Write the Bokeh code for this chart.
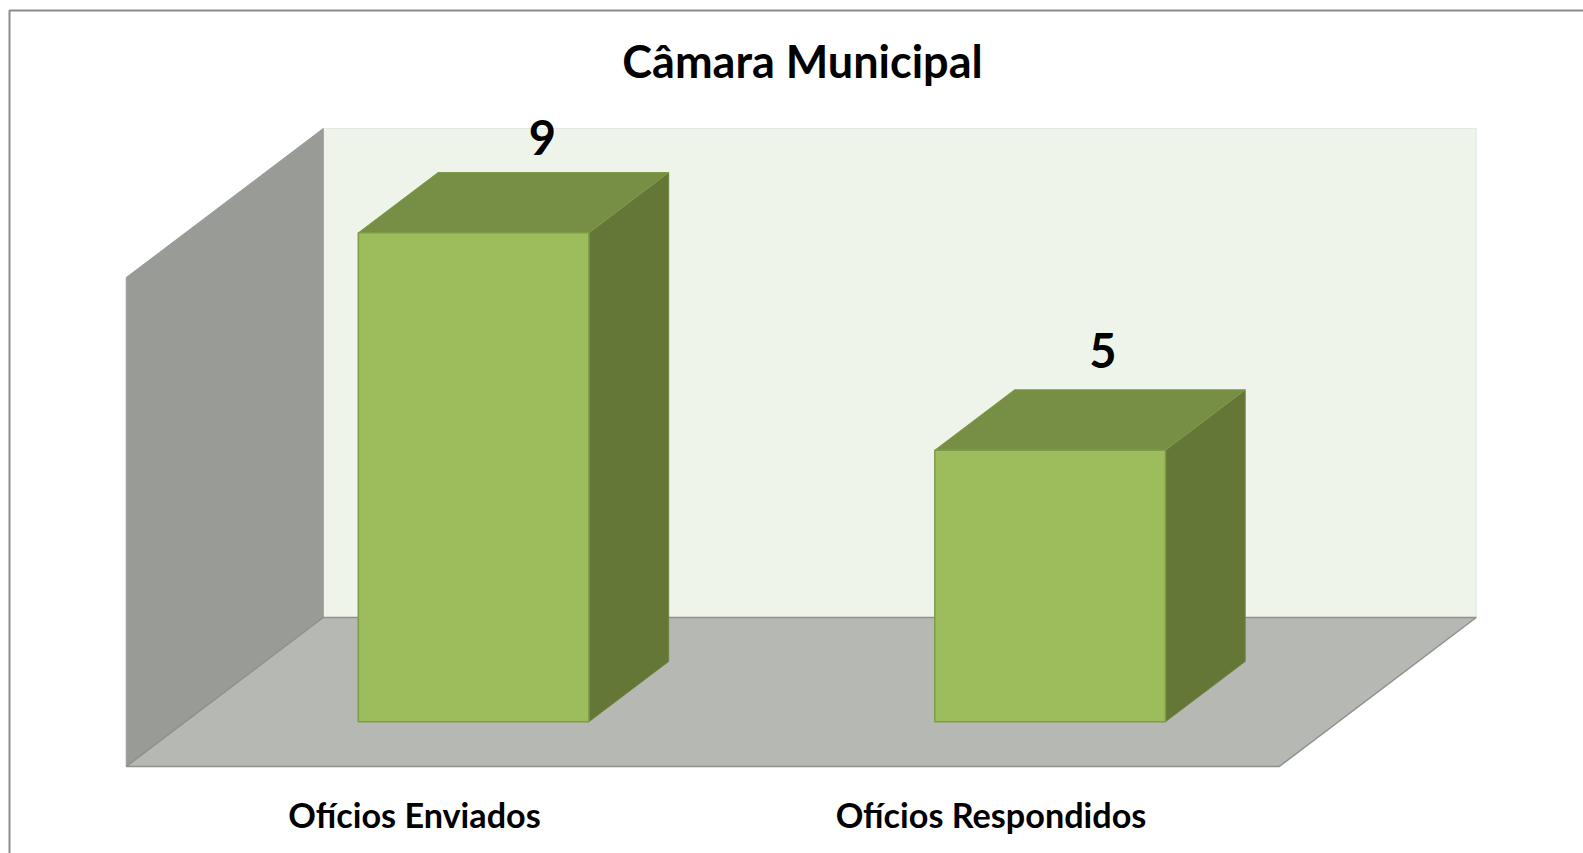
from bokeh.plotting import figure
from bokeh.embed import file_html
from bokeh.resources import INLINE
from bokeh.core.properties import value
from bokeh.models import FixedTicker, Range1d

# --- data ---
title_text = "Câmara Municipal"
categories = ["Ofícios Enviados", "Ofícios Respondidos"]
counts = [9, 5]
axis_top = 9

# --- layout of the pseudo-3D box ---
W, H = 1583, 853
PX_X = 576.5    # pixels per category
PX_Y = 54.33    # pixels per count
X0_PX, Y0_PX = 414.0, 766.0   # page position of category 0 / count 0 on the front plane
DX = 197.0 / PX_X   # full floor depth, in x units
DY = 149.0 / PX_Y   # full floor depth, in y units
BAR_HALF = 0.2
Z_FRONT, Z_BACK = 0.30, 0.705
LABEL_DX = [0.222, 0.194]
LABEL_DY = [2.58, 2.66]

xmin = -X0_PX / PX_X
xmax = xmin + W / PX_X
ymin = -(H - Y0_PX) / PX_Y
ymax = Y0_PX / PX_Y

p = figure(width=W, height=H, output_backend="svg", toolbar_location=None,
           x_range=Range1d(xmin, xmax), y_range=Range1d(ymin, ymax),
           min_border=0, min_border_left=0, min_border_right=0, min_border_top=0, min_border_bottom=0,
           background_fill_color="white", border_fill_color="white", outline_line_color=None)
p.grid.visible = False
p.yaxis.visible = False


def pr(x, y, z):
    return x + z * DX, y + z * DY


def face(points, fill, line=None, width=1.0):
    xs, ys = zip(*[pr(*pt) for pt in points])
    p.patch(list(xs), list(ys), fill_color=fill, line_color=line or fill, line_width=width)


L, R = -0.5, len(categories) - 0.5

# chart frame (only top and left edges fall within the picture)
fx = xmin + 9.0 / PX_X
fy = ymax - 10.0 / PX_Y
p.line([fx, fx, xmax], [ymin, fy, fy], line_color="#8C8C8C", line_width=2)

# walls and floor
face([(L, 0, 1), (R, 0, 1), (R, axis_top, 1), (L, axis_top, 1)], "#EEF4EA", "#E4E8E1")
face([(L, 0, 0), (L, 0, 1), (L, axis_top, 1), (L, axis_top, 0)], "#999B96", "#999B96")
face([(L, 0, 0), (R, 0, 0), (R, 0, 1), (L, 0, 1)], "#B6B8B3", "#8F918D", 1.5)

# bars
for i, v in enumerate(counts):
    a, b = i - BAR_HALF, i + BAR_HALF
    face([(b, 0, Z_FRONT), (b, 0, Z_BACK), (b, v, Z_BACK), (b, v, Z_FRONT)], "#657736", "#6F8540")
    face([(a, v, Z_FRONT), (b, v, Z_FRONT), (b, v, Z_BACK), (a, v, Z_BACK)], "#778E45", "#7F9B48")
    face([(a, 0, Z_FRONT), (b, 0, Z_FRONT), (b, v, Z_FRONT), (a, v, Z_FRONT)], "#9DBC5B", "#7F9B48", 1.5)

# data labels
p.text(x=[i + dx for i, dx in enumerate(LABEL_DX)],
       y=[v + dy for v, dy in zip(counts, LABEL_DY)],
       text=[str(v) for v in counts], text_font=value("Lato"), text_font_style="bold",
       text_font_size="47px", text_color="black", text_align="center", text_baseline="middle")

# title
p.text(x=[(802 - X0_PX) / PX_X], y=[(Y0_PX - 60) / PX_Y], text=[title_text],
       text_font=value("Lato"), text_font_style="bold", text_font_size="45px",
       text_color="black", text_align="center", text_baseline="middle")

# category axis, on the floor's front edge
ax = p.xaxis[0]
ax.fixed_location = 0
ax.ticker = FixedTicker(ticks=list(range(len(categories))))
ax.major_label_overrides = {i: c for i, c in enumerate(categories)}
ax.axis_line_color = None
ax.major_tick_line_color = None
ax.minor_tick_line_color = None
ax.major_label_text_font = "Lato"
ax.major_label_text_font_style = "bold"
ax.major_label_text_font_size = "34.2px"
ax.major_label_text_color = "black"
ax.major_label_standoff = 21

open("out.html", "w").write(file_html(p, INLINE))
